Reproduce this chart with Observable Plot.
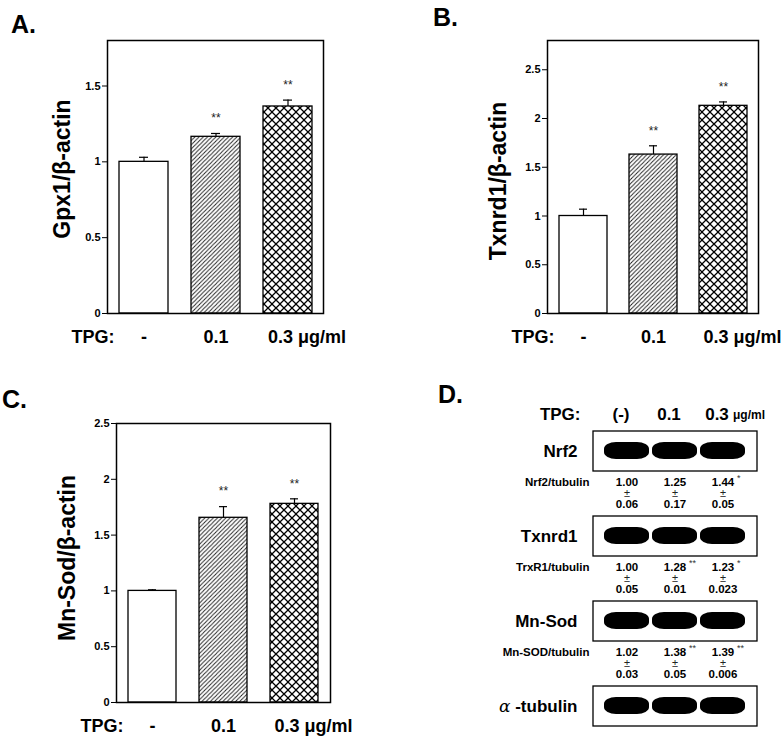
<!DOCTYPE html>
<html><head><meta charset="utf-8">
<script src="https://cdn.jsdelivr.net/npm/d3@7"></script>
<script src="https://cdn.jsdelivr.net/npm/@observablehq/plot@0.6"></script>
<style>
body{margin:0;background:#fff;font-family:"Liberation Sans",Arial,sans-serif;}
#wrap{position:relative;width:783px;height:740px;overflow:hidden;background:#fff;}
.panel{position:absolute;}
.panel svg{overflow:visible;}
.letter{position:absolute;font-weight:bold;font-size:25px;line-height:1;color:#000;}
</style></head><body>
<svg width="0" height="0" style="position:absolute">
<defs>
<pattern id="hatch" patternUnits="userSpaceOnUse" width="4.2" height="4.2">
<path d="M-1,1 L1,-1 M0,4.2 L4.2,0 M3.2,5.2 L5.2,3.2" stroke="#222" stroke-width="1"/>
</pattern>
<pattern id="cross" patternUnits="userSpaceOnUse" width="8" height="8">
<path d="M0,0 L8,8 M8,0 L0,8" stroke="#000" stroke-width="1.25"/>
</pattern>
<filter id="soft" x="-10%" y="-50%" width="120%" height="200%"><feGaussianBlur stdDeviation="0.9"/></filter>
</defs></svg>
<div id="wrap">
  <div class="letter" style="left:11px;top:12px">A.</div>
  <div class="letter" style="left:433px;top:5px">B.</div>
  <div class="letter" style="left:2px;top:387px">C.</div>
  <div class="letter" style="left:438px;top:382px">D.</div>
  <div class="panel" id="pA" style="left:0;top:0"></div>
  <div class="panel" id="pB" style="left:390px;top:0"></div>
  <div class="panel" id="pC" style="left:0;top:370px"></div>
  <div class="panel" id="pD" style="left:440px;top:380px"></div>
</div>
<script>
const FONT = '"Liberation Sans", Arial, sans-serif';

// ---- Data: bar panels ----
const doses = ["-", "0.1", "0.3"];
const doseUnit = "μg/ml";
const treatLabel = "TPG:";

const gpx1Mean = [1.00, 1.165, 1.365];
const gpx1Err  = [0.03, 0.022, 0.042];
const gpx1Sig  = ["", "**", "**"];

const txnrd1Mean = [1.00, 1.63, 2.13];
const txnrd1Err  = [0.07, 0.09, 0.04];
const txnrd1Sig  = ["", "**", "**"];

const mnsodMean = [1.00, 1.655, 1.78];
const mnsodErr  = [0.01, 0.10, 0.045];
const mnsodSig  = ["", "**", "**"];

const ticksA = [0, 0.5, 1, 1.5];
const ticksBC = [0, 0.5, 1, 1.5, 2, 2.5];

// ---- Data: western blot panel ----
const lanes = ["(-)", "0.1", "0.3"];
const blotRows = ["Nrf2", "Txnrd1", "Mn-Sod", "α-tubulin"];
const ratioNames = ["Nrf2/tubulin", "TrxR1/tubulin", "Mn-SOD/tubulin"];
const nrf2Ratio = ["1.00", "1.25", "1.44"];
const nrf2RatioErr = ["0.06", "0.17", "0.05"];
const nrf2RatioSig = ["", "", "*"];
const trxr1Ratio = ["1.00", "1.28", "1.23"];
const trxr1RatioErr = ["0.05", "0.01", "0.023"];
const trxr1RatioSig = ["", "**", "*"];
const mnsodRatio = ["1.02", "1.38", "1.39"];
const mnsodRatioErr = ["0.03", "0.05", "0.006"];
const mnsodRatioSig = ["", "**", "**"];

function barChart(o) {
  const data = doses.map((d, i) => ({dose: d, mean: o.means[i], top: o.means[i] + o.errs[i], sig: o.sigs[i]}));
  const lab = {fontSize: 18, fontWeight: "bold", fill: "black", lineAnchor: "middle"};
  return Plot.plot({
    width: o.width, height: o.height,
    marginLeft: o.ml, marginRight: o.mr, marginTop: o.mt, marginBottom: o.mb,
    style: {fontFamily: FONT, background: "transparent", color: "black"},
    x: {type: "band", domain: doses, paddingInner: 0.32, paddingOuter: 0.16, axis: null},
    y: {domain: o.yDomain, axis: null},
    color: {domain: doses, range: ["white", "url(#hatch)", "url(#cross)"]},
    marks: [
      Plot.ruleX(data, {x: "dose", y1: "mean", y2: "top", stroke: "black", strokeWidth: 1.2}),
      Plot.tickY(data, {x: "dose", y: "top", insetLeft: 20, insetRight: 20, stroke: "black", strokeWidth: 1.2}),
      Plot.barY(data, {x: "dose", y: "mean", fill: "dose", stroke: "black", strokeWidth: 1.3}),
      Plot.text(data, {x: "dose", y: "top", text: "sig", dy: -15, fontSize: 12, fill: "#222"}),
      Plot.frame({stroke: "black", strokeWidth: 1.5}),
      Plot.axisY(o.ticks, {tickSize: 5, tickPadding: 2, tickFormat: d => String(d), fontWeight: "bold", fontSize: 11, label: null, stroke: "black"}),
      Plot.text([o.yLabel], {frameAnchor: "left", textAnchor: "middle", lineAnchor: "middle", rotate: -90, dx: o.ldx, dy: o.ldy, fontSize: 23, fontWeight: "bold", fill: "black"}),
      Plot.text(data.slice(0, 2), {x: "dose", text: "dose", frameAnchor: "bottom", textAnchor: "middle", dy: 24, ...lab}),
      Plot.text(data.slice(2), {x: "dose", text: d => d.dose + " " + doseUnit, frameAnchor: "bottom", textAnchor: "start", dx: -20, dy: 24, ...lab}),
      Plot.text([treatLabel], {frameAnchor: "bottom-left", textAnchor: "start", dx: -36, dy: 24, ...lab})
    ]
  });
}

document.getElementById("pA").append(barChart({
  means: gpx1Mean, errs: gpx1Err, sigs: gpx1Sig, yDomain: [0, 1.8], ticks: ticksA,
  yLabel: "Gpx1/β-actin", width: 360, height: 360, ml: 107, mr: 37, mt: 40, mb: 47, ldx: -45, ldy: -8
}));
document.getElementById("pB").append(barChart({
  means: txnrd1Mean, errs: txnrd1Err, sigs: txnrd1Sig, yDomain: [0, 2.8], ticks: ticksBC,
  yLabel: "Txnrd1/β-actin", width: 393, height: 360, ml: 157, mr: 25, mt: 40, mb: 47, ldx: -49, ldy: 4
}));
document.getElementById("pC").append(barChart({
  means: mnsodMean, errs: mnsodErr, sigs: mnsodSig, yDomain: [0, 2.5], ticks: ticksBC,
  yLabel: "Mn-Sod/β-actin", width: 390, height: 370, ml: 116, mr: 60, mt: 53, mb: 38, ldx: -49, ldy: -5
}));

// ---- Panel D ----
const bands = blotRows.flatMap(r => lanes.map(l => ({row: r, lane: l})));
const ratioSets = [
  [nrf2Ratio, nrf2RatioErr, nrf2RatioSig],
  [trxr1Ratio, trxr1RatioErr, trxr1RatioSig],
  [mnsodRatio, mnsodRatioErr, mnsodRatioSig]
];
const ratios = ratioSets.flatMap(([m, e, s], ri) => lanes.map((l, li) => ({row: blotRows[ri], lane: l, mean: m[li], err: e[li], sig: s[li]})));
const ratioRowLabels = ratioNames.map((n, i) => ({row: blotRows[i], name: n}));
const small = {fontSize: 11.5, fontWeight: "bold", fill: "black", lineAnchor: "middle"};

const plotD = Plot.plot({
  width: 343, height: 360,
  marginLeft: 153, marginRight: 26, marginTop: 50, marginBottom: 13,
  style: {fontFamily: FONT, background: "transparent", color: "black"},
  x: {type: "band", domain: lanes, paddingInner: 0.06, paddingOuter: 0.22, axis: null},
  y: {type: "band", domain: blotRows, paddingInner: 0.533, paddingOuter: 0, axis: null},
  marks: [
    Plot.cell(blotRows, {y: d => d, fill: "white", stroke: "black", strokeWidth: 1.3}),
    Plot.cell(bands, {x: "lane", y: "row", fill: "black", insetTop: 11, insetBottom: 12, rx: 12, ry: 7, ariaLabel: "blot band"}),
    Plot.text(blotRows, {y: d => d, text: d => d, frameAnchor: "left", textAnchor: "end", lineAnchor: "middle", dx: -16, fontSize: 17, fontWeight: "bold", fill: "black"}),
    Plot.text([treatLabel], {frameAnchor: "top-left", textAnchor: "end", lineAnchor: "middle", dx: -13, dy: -16, fontSize: 17, fontWeight: "bold", fill: "black"}),
    Plot.text(lanes, {x: d => d, text: d => d, frameAnchor: "top", textAnchor: "middle", lineAnchor: "middle", dx: -6, dy: -16, fontSize: 17, fontWeight: "bold", fill: "black"}),
    Plot.text(lanes.slice(2), {x: d => d, text: () => doseUnit, frameAnchor: "top", textAnchor: "start", lineAnchor: "middle", dx: 10, dy: -15, fontSize: 12, fontWeight: "bold", fill: "black"}),
    Plot.text(ratioRowLabels, {y: "row", text: "name", frameAnchor: "left", textAnchor: "end", dx: -4, dy: 31, ...small}),
    Plot.text(ratios, {x: "lane", y: "row", text: "mean", dy: 31, ...small}),
    Plot.text(ratios, {x: "lane", y: "row", text: () => "±", dy: 42, fontSize: 11, fill: "#222"}),
    Plot.text(ratios, {x: "lane", y: "row", text: "err", dy: 53, ...small}),
    Plot.text(ratios, {x: "lane", y: "row", text: "sig", textAnchor: "start", dx: 14, dy: 27, fontSize: 9, fill: "#333"})
  ]
});
d3.select(plotD).selectAll('g[aria-label="blot band"] rect').attr("filter", "url(#soft)");
d3.select(plotD).selectAll("text").each(function() {
  const t = d3.select(this);
  if (t.text() === "α-tubulin") {
    t.text(null);
    t.append("tspan").attr("font-style", "italic").attr("font-weight", "normal").attr("font-family", "DejaVu Serif, serif").text("α");
    t.append("tspan").text(" -tubulin");
  }
});
document.getElementById("pD").append(plotD);
</script>
</body></html>
